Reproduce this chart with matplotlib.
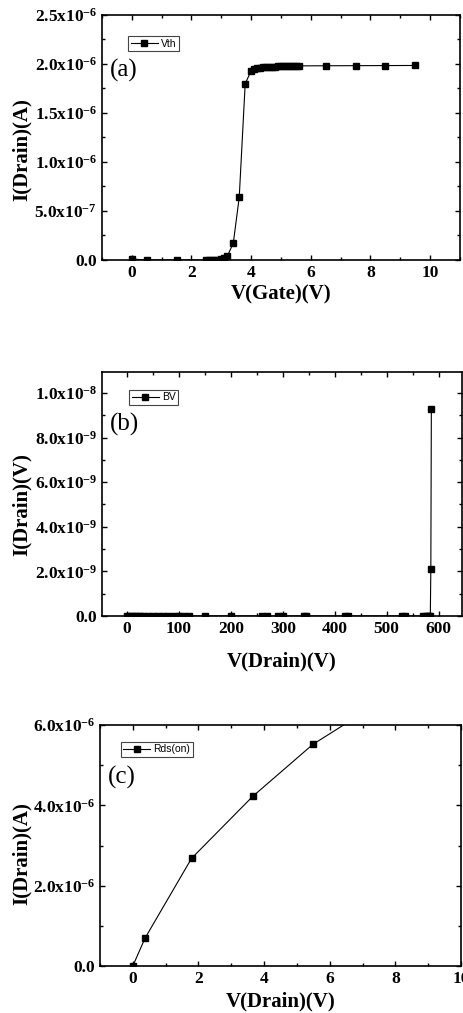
import matplotlib
matplotlib.use("Agg")
import matplotlib.pyplot as plt
from matplotlib.ticker import FixedLocator, FixedFormatter, MultipleLocator

plt.rcParams['font.family'] = ['Liberation Serif', 'DejaVu Serif']
plt.rcParams['mathtext.fontset'] = 'custom'
plt.rcParams['mathtext.rm'] = 'Liberation Serif:bold'
plt.rcParams['mathtext.bf'] = 'Liberation Serif:bold'
plt.rcParams['mathtext.default'] = 'bf'

# ---------------- data ----------------
# (a) threshold voltage sweep
vth_x = [0.0, 0.5, 1.5, 2.5, 2.6, 2.7, 2.8, 2.9, 3.0, 3.1, 3.2, 3.4, 3.6, 3.8, 4.0,
         4.1, 4.2, 4.3, 4.4, 4.5, 4.6, 4.7, 4.8, 4.9, 5.0, 5.1, 5.2, 5.3, 5.4, 5.5, 5.6,
         6.5, 7.5, 8.5, 9.5]
vth_y = [0.01e-6, 0.0, 0.0, 0.0, 0.0, 0.001e-6, 0.003e-6, 0.005e-6, 0.01e-6, 0.02e-6,
         0.04e-6, 0.17e-6, 0.64e-6, 1.80e-6, 1.93e-6,
         1.945e-6, 1.955e-6, 1.96e-6, 1.965e-6, 1.967e-6, 1.97e-6, 1.972e-6, 1.974e-6,
         1.975e-6, 1.976e-6, 1.977e-6, 1.978e-6, 1.979e-6, 1.98e-6, 1.98e-6, 1.981e-6,
         1.982e-6, 1.983e-6, 1.984e-6, 1.985e-6]

# (b) breakdown voltage sweep
bv_x = [0, 5, 10, 15, 20, 25, 30, 40, 50, 60, 70, 80, 90, 100, 110, 120, 150, 200,
        260, 270, 290, 300, 340, 345, 420, 425, 530, 535, 570, 575, 580, 582, 584,
        585, 586]
bv_y = [0.0] * 33 + [2.1e-9, 9.3e-9]

# (c) on-resistance sweep
rds_x = [0.0, 0.37, 1.79, 3.65, 5.49, 7.3]
rds_y = [0.0, 0.69e-6, 2.68e-6, 4.22e-6, 5.52e-6, 6.45e-6]

# ticks
a_xticks = [0, 2, 4, 6, 8, 10]
a_yticks = [0.0, 0.5e-6, 1.0e-6, 1.5e-6, 2.0e-6, 2.5e-6]
a_ylabels = ['0.0', '5.0x10$^{-7}$', '1.0x10$^{-6}$', '1.5x10$^{-6}$', '2.0x10$^{-6}$',
             '2.5x10$^{-6}$']
b_xticks = [0, 100, 200, 300, 400, 500, 600]
b_yticks = [0.0, 2e-9, 4e-9, 6e-9, 8e-9, 1e-8]
b_ylabels = ['0.0', '2.0x10$^{-9}$', '4.0x10$^{-9}$', '6.0x10$^{-9}$', '8.0x10$^{-9}$',
             '1.0x10$^{-8}$']
c_xticks = [0, 2, 4, 6, 8, 10]
c_yticks = [0.0, 2e-6, 4e-6, 6e-6]
c_ylabels = ['0.0', '2.0x10$^{-6}$', '4.0x10$^{-6}$', '6.0x10$^{-6}$']

W, H = 464, 1013
fig = plt.figure(figsize=(W / 100, H / 100), dpi=100)


def px_axes(l, r, t, b):
    return fig.add_axes([l / W, 1 - b / H, (r - l) / W, (b - t) / H])


panels = [
    dict(box=(102, 460, 15, 260), x=vth_x, y=vth_y, xlim=(-1, 11), ylim=(0, 2.5e-6),
         xt=a_xticks, xminor=1, yt=a_yticks, yl=a_ylabels, yminor=0.25e-6,
         xlabel='V(Gate)(V)', ylabel='I(Drain)(A)', leg='Vth', tag='(a)',
         legpos=(0.073, 0.914), tagpos=(0.022, 0.773), ylc=(-0.196, 0.45), xlc=(0.5, -0.10)),
    dict(box=(102, 462, 372, 616), x=bv_x, y=bv_y, xlim=(-48, 645), ylim=(0, 1.094e-8),
         xt=b_xticks, xminor=50, yt=b_yticks, yl=b_ylabels, yminor=1e-9,
         xlabel='V(Drain)(V)', ylabel='I(Drain)(V)', leg='BV', tag='(b)',
         legpos=(0.075, 0.928), tagpos=(0.022, 0.786), ylc=(-0.196, 0.458), xlc=(0.5, -0.145)),
    dict(box=(100, 461, 725, 966), x=rds_x, y=rds_y, xlim=(-1, 10), ylim=(0, 6e-6),
         xt=c_xticks, xminor=1, yt=c_yticks, yl=c_ylabels, yminor=1e-6,
         xlabel='V(Drain)(V)', ylabel='I(Drain)(A)', leg='Rds(on)', tag='(c)',
         legpos=(0.057, 0.93), tagpos=(0.022, 0.783), ylc=(-0.19, 0.465), xlc=(0.5, -0.105)),
]

for p in panels:
    ax = px_axes(*p['box'])
    ax.plot(p['x'], p['y'], color='black', lw=0.8, marker='s', ms=4.5,
            mfc='black', mec='black', label=p['leg'])
    ax.set_xlim(*p['xlim'])
    ax.set_ylim(*p['ylim'])
    ax.xaxis.set_major_locator(FixedLocator(p['xt']))
    ax.xaxis.set_major_formatter(FixedFormatter([str(v) for v in p['xt']]))
    ax.xaxis.set_minor_locator(MultipleLocator(p['xminor']))
    ax.yaxis.set_major_locator(FixedLocator(p['yt']))
    ax.yaxis.set_major_formatter(FixedFormatter(p['yl']))
    ax.yaxis.set_minor_locator(MultipleLocator(p['yminor']))
    ax.tick_params(which='both', direction='in', top=True, right=True, width=1.0)
    ax.tick_params(which='major', length=3.5, pad=3.5, labelsize=12.5)
    ax.tick_params(which='minor', length=2)
    for lab in ax.get_xticklabels() + ax.get_yticklabels():
        lab.set_fontweight('bold')
    for s in ax.spines.values():
        s.set_linewidth(1.2)
    ax.set_xlabel(p['xlabel'], fontsize=15, fontweight='bold', va='top')
    ax.set_ylabel(p['ylabel'], fontsize=15, fontweight='bold')
    ax.xaxis.set_label_coords(*p['xlc'])
    ax.yaxis.set_label_coords(*p['ylc'])
    ax.text(p['tagpos'][0], p['tagpos'][1], p['tag'], transform=ax.transAxes,
            fontsize=18, ha='left', va='center')
    leg = ax.legend(loc='upper left', bbox_to_anchor=p['legpos'], borderaxespad=0,
                    prop={'family': 'Liberation Sans', 'size': 7.5}, numpoints=1,
                    handlelength=2.6, handletextpad=0.3, borderpad=0.25,
                    fancybox=False, framealpha=1, edgecolor='#444444')
    leg.get_frame().set_linewidth(0.8)

fig.savefig('out.png', dpi=100)
